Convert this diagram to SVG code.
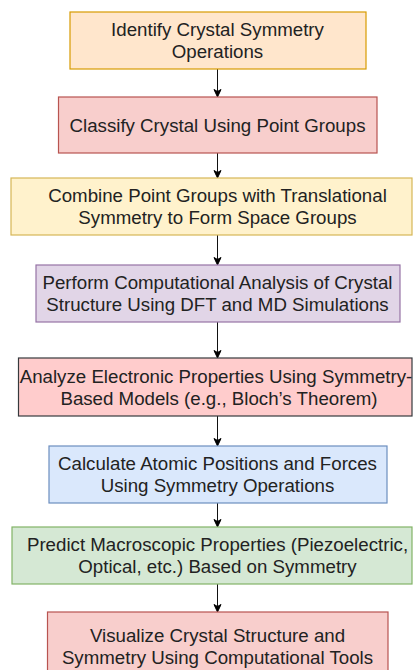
<svg xmlns="http://www.w3.org/2000/svg" width="415" height="670" viewBox="0 0 415 670">
<defs>
<marker id="arr" markerUnits="userSpaceOnUse" markerWidth="10" markerHeight="10" viewBox="0 0 10 10" refX="9" refY="5" orient="auto">
<path d="M1.5,1.5 L9,5 L1.5,8.5 L3.5,5 Z" fill="#000" stroke="#000" stroke-width="1"/>
</marker>
<style>
rect{stroke-width:1.2}
text{font-family:"Liberation Sans",Arial,sans-serif;font-size:18.7px;fill:#222;text-anchor:middle}
.c{stroke:#111;stroke-width:1;fill:none;marker-end:url(#arr)}
</style>
</defs>
<rect width="415" height="670" fill="#fff" stroke="none"/>
<g id="connectors">
<line class="c" x1="217.5" y1="69" x2="217.5" y2="97"/>
<line class="c" x1="217.5" y1="153" x2="217.5" y2="178"/>
<line class="c" x1="217.5" y1="235" x2="217.5" y2="265"/>
<line class="c" x1="217.5" y1="322" x2="217.5" y2="358"/>
<line class="c" x1="217.5" y1="416" x2="217.5" y2="446"/>
<line class="c" x1="217.5" y1="503" x2="217.5" y2="527"/>
<line class="c" x1="217.5" y1="584" x2="217.5" y2="612"/>
</g>
<g id="n1">
<rect x="70" y="12" width="296" height="57" fill="#ffe6cc" stroke="#d79b00"/>
<text x="217.5" y="36">Identify Crystal Symmetry</text>
<text x="217.5" y="58">Operations</text>
</g>
<g id="n2">
<rect x="58.5" y="97" width="318.5" height="56" fill="#f8cecc" stroke="#b85450"/>
<text x="217.5" y="131.5">Classify Crystal Using Point Groups</text>
</g>
<g id="n3">
<rect x="11" y="178" width="401" height="57" fill="#fff2cc" stroke="#d6b656"/>
<text x="217.5" y="202">Combine Point Groups with Translational</text>
<text x="217.5" y="224">Symmetry to Form Space Groups</text>
</g>
<g id="n4">
<rect x="36" y="265" width="364" height="57" fill="#e1d5e7" stroke="#9673a6"/>
<text x="217.5" y="289">Perform Computational Analysis of Crystal</text>
<text x="217.5" y="311">Structure Using DFT and MD Simulations</text>
</g>
<g id="n5">
<rect x="18.5" y="358" width="393.5" height="58" fill="#ffcccc" stroke="#36393d"/>
<text x="216" y="382.5">Analyze Electronic Properties Using Symmetry-</text>
<text x="219" y="404.5">Based Models (e.g., Bloch’s Theorem)</text>
</g>
<g id="n6">
<rect x="49" y="446" width="338" height="57" fill="#dae8fc" stroke="#6c8ebf"/>
<text x="217.5" y="470">Calculate Atomic Positions and Forces</text>
<text x="217.5" y="492">Using Symmetry Operations</text>
</g>
<g id="n7">
<rect x="12" y="527" width="400" height="57" fill="#d5e8d4" stroke="#82b366"/>
<text x="217.5" y="551">Predict Macroscopic Properties (Piezoelectric,</text>
<text x="217.5" y="573">Optical, etc.) Based on Symmetry</text>
</g>
<g id="n8">
<rect x="47.5" y="612" width="340.5" height="70" fill="#f8cecc" stroke="#b85450"/>
<text x="217.5" y="641.5">Visualize Crystal Structure and</text>
<text x="217.5" y="663.5">Symmetry Using Computational Tools</text>
</g>
</svg>
